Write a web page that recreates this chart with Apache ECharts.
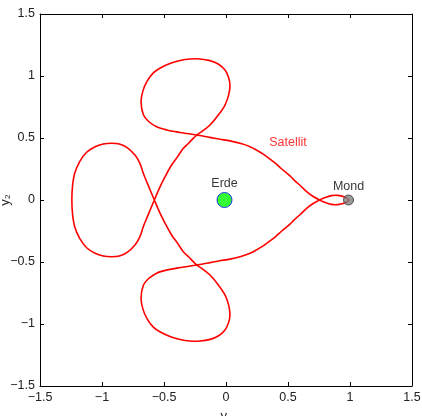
<!DOCTYPE html>
<html>
<head>
<meta charset="utf-8">
<script src="https://cdn.jsdelivr.net/npm/echarts@6/dist/echarts.min.js"></script>
<style>
  html, body { margin: 0; padding: 0; background: #fff; }
  #chart { width: 422px; height: 416px; }
</style>
</head>
<body>
<div id="chart"></div>
<script>
  // satellite orbit (y1 = x, y2 = y)
  const satY1 = [
    0.99, 0.95, 0.90, 0.85, 0.80, 0.755,
    0.70, 0.65, 0.60, 0.55, 0.516, 0.45, 0.40, 0.355, 0.30, 0.25, 0.194, 0.12, 0.032, -0.05, -0.13, -0.237,
    -0.371, -0.478, -0.559, -0.626, -0.667, -0.685, -0.67, -0.635, -0.586, -0.53, -0.452, -0.37, -0.29, -0.21, -0.129, -0.06, -0.008, 0.02, 0.032, 0.022, -0.008, -0.062, -0.129, -0.196, -0.237,
    -0.30, -0.344, -0.39, -0.44, -0.49, -0.535, -0.578,
    -0.634, -0.667, -0.694, -0.734, -0.80, -0.86, -0.922, -0.99, -1.056, -1.124, -1.18, -1.22, -1.238, -1.243,
    -1.238, -1.22, -1.18, -1.124, -1.056, -0.99, -0.922, -0.86, -0.80, -0.734, -0.694, -0.667, -0.634, -0.578,
    -0.535, -0.49, -0.44, -0.39, -0.344, -0.30, -0.237,
    -0.196, -0.129, -0.062, -0.008, 0.022, 0.032, 0.02, -0.008, -0.06, -0.129, -0.21, -0.29, -0.37, -0.452, -0.53, -0.586, -0.635, -0.67, -0.685, -0.667, -0.626, -0.559, -0.478, -0.371, -0.237,
    -0.13, -0.05, 0.032, 0.12, 0.194, 0.25, 0.30, 0.355, 0.40, 0.45, 0.516, 0.55, 0.60, 0.65, 0.70, 0.755,
    0.80, 0.85, 0.90, 0.95, 0.99
  ]
  const satY2 = [
    0.0, 0.027, 0.037, 0.035, 0.02, 0.0,
    -0.03, -0.067, -0.115, -0.16, -0.195, -0.25, -0.295, -0.33, -0.37, -0.40, -0.43, -0.455, -0.477, -0.49, -0.505, -0.524,
    -0.545, -0.565, -0.59, -0.635, -0.69, -0.79, -0.88, -0.96, -1.025, -1.065, -1.10, -1.125, -1.137, -1.137, -1.124, -1.095, -1.048, -0.99, -0.927, -0.85, -0.766, -0.685, -0.605, -0.551, -0.524,
    -0.46, -0.417, -0.35, -0.28, -0.19, -0.10, 0.0,
    0.134, 0.215, 0.296, 0.363, 0.425, 0.452, 0.458, 0.452, 0.43, 0.385, 0.31, 0.215, 0.11, 0.0,
    -0.11, -0.215, -0.31, -0.385, -0.43, -0.452, -0.458, -0.452, -0.425, -0.363, -0.296, -0.215, -0.134, 0.0,
    0.10, 0.19, 0.28, 0.35, 0.417, 0.46, 0.524,
    0.551, 0.605, 0.685, 0.766, 0.85, 0.927, 0.99, 1.048, 1.095, 1.124, 1.137, 1.137, 1.125, 1.10, 1.065, 1.025, 0.96, 0.88, 0.79, 0.69, 0.635, 0.59, 0.565, 0.545, 0.524,
    0.505, 0.49, 0.477, 0.455, 0.43, 0.40, 0.37, 0.33, 0.295, 0.25, 0.195, 0.16, 0.115, 0.067, 0.03, 0.0,
    -0.02, -0.035, -0.037, -0.027, 0.0
  ]
  const earth = [-0.012, 0]
  const moon = [0.988, 0]
  const satLabelPos = [0.5, 0.46]
  const ticks = [-1.5, -1, -0.5, 0, 0.5, 1, 1.5]

  const chartInstance = echarts.init(document.getElementById('chart'))
  const fontFamily = 'Liberation Sans, Arial, sans-serif'
  const fmt = (v) => String(v).replace('-', '\u2212')

  const orbit = satY1.map((x, i) => [x, satY2[i]])

  // closed curve through the orbit points (catmull-rom -> bezier), drawn once
  function renderOrbit(params, api) {
    if (params.dataIndex !== 0) return null
    const pts = orbit.slice(0, orbit.length - 1).map((p) => api.coord(p))
    const n = pts.length
    let d = 'M' + pts[0][0] + ' ' + pts[0][1]
    for (let i = 0; i < n; i++) {
      const p0 = pts[(i - 1 + n) % n]
      const p1 = pts[i]
      const p2 = pts[(i + 1) % n]
      const p3 = pts[(i + 2) % n]
      const c1x = p1[0] + (p2[0] - p0[0]) / 6
      const c1y = p1[1] + (p2[1] - p0[1]) / 6
      const c2x = p2[0] - (p3[0] - p1[0]) / 6
      const c2y = p2[1] - (p3[1] - p1[1]) / 6
      d += ' C' + c1x + ' ' + c1y + ' ' + c2x + ' ' + c2y + ' ' + p2[0] + ' ' + p2[1]
    }
    return {
      type: 'path',
      shape: { pathData: d },
      style: { stroke: '#ff0000', fill: 'none', lineWidth: 1.6 }
    }
  }

  const baseAxis = {
    type: 'value',
    min: ticks[0],
    max: ticks[ticks.length - 1],
    interval: 0.5,
    splitLine: { show: false },
    axisLine: { show: true, onZero: false, lineStyle: { color: '#000', width: 1 } },
    axisTick: { show: true, inside: true, length: 4, lineStyle: { color: '#000' } },
    axisLabel: { color: '#222', fontSize: 12.5, fontFamily: fontFamily, formatter: fmt }
  }

  const option = {
    animation: false,
    grid: { left: 40, right: 10, top: 14, bottom: 30, containLabel: false, outerBoundsMode: 'none' },
    graphic: [
      {
        type: 'text',
        x: 5,
        y: 200,
        rotation: Math.PI / 2,
        style: { text: 'y\u2082', fill: '#222', fontSize: 13, fontFamily: fontFamily, align: 'center', verticalAlign: 'middle' }
      }
    ],
    xAxis: [
      Object.assign({}, baseAxis, {
        position: 'bottom',
        name: 'y\u2081',
        nameLocation: 'middle',
        nameGap: 24,
        nameTextStyle: { color: '#222', fontSize: 13, fontFamily: fontFamily },
        axisLabel: Object.assign({}, baseAxis.axisLabel, { margin: 5 })
      }),
      Object.assign({}, baseAxis, { position: 'top', axisLabel: { show: false } })
    ],
    yAxis: [
      Object.assign({}, baseAxis, {
        position: 'left',
        axisLabel: Object.assign({}, baseAxis.axisLabel, { margin: 5 })
      }),
      Object.assign({}, baseAxis, { position: 'right', axisLabel: { show: false } })
    ],
    series: [
      {
        type: 'custom',
        data: orbit,
        renderItem: renderOrbit,
        z: 2
      },
      {
        type: 'scatter',
        data: [earth],
        symbolSize: 15,
        itemStyle: { color: '#00ff00', borderColor: '#0000ff', borderWidth: 1 },
        label: { show: true, position: 'top', distance: 2, formatter: 'Erde', color: '#000', fontSize: 12.5, fontFamily: fontFamily },
        z: 3
      },
      {
        type: 'scatter',
        data: [moon],
        symbolSize: 10,
        itemStyle: { color: '#808080', borderColor: '#333', borderWidth: 1 },
        label: { show: true, position: 'top', distance: 1, formatter: 'Mond', color: '#000', fontSize: 12.5, fontFamily: fontFamily },
        z: 3
      },
      {
        type: 'scatter',
        data: [satLabelPos],
        symbolSize: 1,
        itemStyle: { color: 'rgba(0,0,0,0)' },
        label: { show: true, position: 'inside', formatter: 'Satellit', color: '#ff0000', fontSize: 12.5, fontFamily: fontFamily },
        z: 3
      }
    ]
  }
  chartInstance.setOption(option)
</script>
</body>
</html>
